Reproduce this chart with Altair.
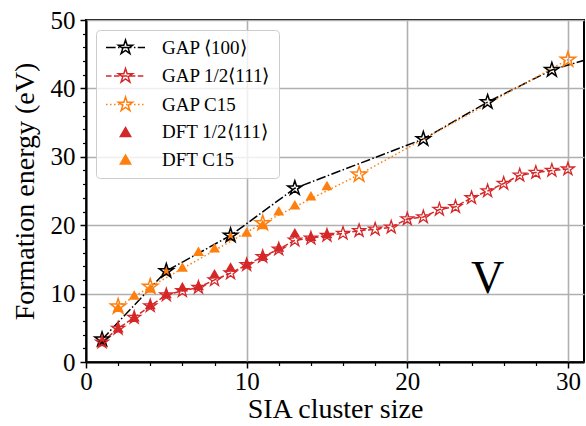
import math
import altair as alt
import pandas as pd

# ---------------- data ----------------
series_names = ["GAP ⟨100⟩", "GAP 1/2⟨111⟩", "GAP C15", "DFT 1/2⟨111⟩", "DFT C15"]
series_colors = ["#000000", "#d62728", "#ff7f0e", "#d62728", "#ff7f0e"]

gap100_x = [1, 5, 9, 13, 21, 25, 29, 33]
gap100_y = [3.3, 13.3, 18.5, 25.4, 32.6, 38.0, 42.7, 45.5]

gap111_x = list(range(1, 31))
gap111_y = [2.9, 4.9, 6.5, 8.2, 9.8, 10.4, 10.9, 12.0, 13.0, 14.2,
            15.4, 16.5, 17.8, 18.1, 18.5, 18.8, 19.2, 19.4, 19.7, 20.9,
            21.2, 22.3, 22.7, 24.0, 25.0, 26.1, 27.3, 27.7, 28.0, 28.2]

gapc15_x = [2, 4, 11, 17, 30]
gapc15_y = [8.1, 11.0, 20.3, 27.4, 44.2]

dft111_x = list(range(1, 16))
dft111_y = [3.0, 5.0, 6.6, 8.4, 10.0, 11.0, 11.2, 12.9, 13.9, 14.4,
            15.6, 16.8, 18.9, 18.4, 18.8]

dftc15_x = list(range(2, 16))
dftc15_y = [8.0, 9.8, 10.8, 13.3, 13.9, 16.2, 16.7, 18.4, 19.0, 20.1,
            22.1, 23.0, 24.3, 25.8]

annot_text = ["V"]
annot_x = [25.0]
annot_y = [10.1]

x_title = "SIA cluster size"
y_title = "Formation energy (eV)"

# ---------------- tables ----------------
gap_df = pd.concat([
    pd.DataFrame({"series": series_names[0], "x": gap100_x, "y": gap100_y}),
    pd.DataFrame({"series": series_names[1], "x": gap111_x, "y": gap111_y}),
    pd.DataFrame({"series": series_names[2], "x": gapc15_x, "y": gapc15_y}),
], ignore_index=True)
dft_df = pd.concat([
    pd.DataFrame({"series": series_names[3], "x": dft111_x, "y": dft111_y}),
    pd.DataFrame({"series": series_names[4], "x": dftc15_x, "y": dftc15_y}),
], ignore_index=True)
legend_df = pd.DataFrame({
    "series": series_names,
    "x": [gap100_x[0], gap111_x[0], gapc15_x[0], dft111_x[0], dftc15_x[0]],
    "y": [gap100_y[0], gap111_y[0], gapc15_y[0], dft111_y[0], dftc15_y[0]],
})
annot_df = pd.DataFrame({"x": annot_x, "y": annot_y, "text": annot_text})

# ---------------- symbol paths ----------------
def star_path(cx=0.0, R=1.0, r=0.382):
    pts = []
    for k in range(10):
        ang = math.radians(-90 + 36 * k)
        rad = R if k % 2 == 0 else r
        pts.append((cx + rad * math.cos(ang), rad * math.sin(ang)))
    return "M" + "L".join(f"{px:.3f},{py:.3f}" for px, py in pts) + "Z"

def dash_path(x0, x1, pattern):
    segs = []
    pos, i = x0, 0
    while pos < x1:
        seg = pattern[i % len(pattern)]
        end = min(pos + seg, x1)
        if i % 2 == 0:
            segs.append(f"M{pos:.3f},0L{end:.3f},0")
        pos += seg
        i += 1
    return "".join(segs)

UNIT = 7.5  # px per legend path unit (symbolSize 225)
dash_px = [[9.6, 2.4, 1.5, 2.4], [5.55, 2.4], [1.5, 2.5]]
CX = 1.6
legend_paths = []
for pat in dash_px:
    legend_paths.append(dash_path(-1.0, 4.2, [p / UNIT for p in pat]) + star_path(CX))
tri = f"M{CX:.3f},-0.600L{CX-0.690:.3f},0.600L{CX+0.690:.3f},0.600Z"
legend_paths += [tri, tri]

STAR = star_path(0.0)
FONT = "Liberation Serif"

major = "datum.value % 10 === 0"

def make_axis(vals, title, label_pad, title_pad):
    return alt.Axis(
        values=vals, format="d", title=title,
        labelExpr=f"{major} ? datum.label : ''",
        labelFont=FONT,
        tickSize={"condition": {"test": major, "value": 6}, "value": 3.5},
        tickWidth={"condition": {"test": major, "value": 1.5}, "value": 1.2},
        gridOpacity={"condition": {"test": major, "value": 1}, "value": 0},
        grid=True, labelPadding=label_pad, titlePadding=title_pad,
        labelFlush=False, labelOverlap=False,
    )

X = alt.X("x:Q", scale=alt.Scale(domain=[0, 31], nice=False, zero=False),
          axis=make_axis(list(range(0, 31, 2)), x_title, 1, 1))
Y = alt.Y("y:Q", scale=alt.Scale(domain=[0, 50], nice=False, zero=False),
          axis=make_axis(list(range(0, 51, 2)), y_title, 5, 11))
# colour scale for the drawn marks (domain order differs from the legend scales so
# that the hidden colour legend is not merged with the visible one)
C = alt.Color("series:N", scale=alt.Scale(domain=series_names[::-1], range=series_colors[::-1]), legend=None)

lines = alt.Chart(gap_df).mark_line(clip=True, strokeWidth=1.5).encode(
    x=X, y=Y, color=C,
    strokeDash=alt.StrokeDash("series:N", scale=alt.Scale(domain=series_names[:3], range=dash_px), legend=None),
)

tris = alt.Chart(dft_df).mark_point(shape="triangle-up", filled=True, size=120, opacity=1, clip=True).encode(
    x=X, y=Y, color=C)

star_sizes = [225, 185, 256]
star_widths = [1.5, 1.3, 1.5]
star_layers = []
for name, sz, sw in zip(series_names[:3], star_sizes, star_widths):
    star_layers.append(
        alt.Chart(gap_df).transform_filter(alt.datum.series == name)
        .mark_point(shape=STAR, filled=False, size=sz, strokeWidth=sw, opacity=1, clip=True)
        .encode(x=X, y=Y, color=C)
    )

leg = alt.Legend(title=None)
legend_layer = alt.Chart(legend_df).mark_point(opacity=0, strokeWidth=1.5, filled=False).encode(
    x=X, y=Y,
    stroke=alt.Stroke("series:N", scale=alt.Scale(domain=series_names, range=series_colors), legend=leg),
    fill=alt.Fill("series:N", scale=alt.Scale(domain=series_names,
                  range=["transparent", "transparent", "transparent"] + series_colors[3:]), legend=leg),
    shape=alt.Shape("series:N", scale=alt.Scale(domain=series_names, range=legend_paths), legend=leg),
)

text = alt.Chart(annot_df).mark_text(font=FONT, fontSize=46, align="center", baseline="alphabetic",
                                     color="black").encode(x=X, y=Y, text="text:N")

chart = (
    alt.layer(lines, tris, *star_layers, legend_layer, text)
    .properties(
        width=498, height=342,
        padding={"left": 86, "top": 20, "right": 2, "bottom": 64},
        autosize=alt.AutoSizeParams(type="none"),
        background="white",
    )
    .configure(font=FONT)
    .configure_view(stroke="black", strokeWidth=2)
    .configure_axis(
        gridColor="#b0b0b0", gridWidth=1.6,
        domainColor="black", domainWidth=2, tickColor="black",
        labelFont=FONT, labelFontSize=25, labelColor="black",
        titleFont=FONT, titleFontSize=28, titleFontWeight="normal", titleColor="black",
    )
    .configure_legend(
        orient="none", legendX=10, legendY=10,
        symbolSize=225, symbolStrokeWidth=1.5, symbolOpacity=1,
        labelFont=FONT, labelFontSize=19, labelColor="black", labelOffset=39, labelLimit=400,
        rowPadding=7.5, padding=8, strokeColor="#cccccc",
        fillColor="rgba(255,255,255,0.8)", cornerRadius=4,
    )
)

chart.save("out.html", embed_options={"renderer": "svg", "actions": False})
